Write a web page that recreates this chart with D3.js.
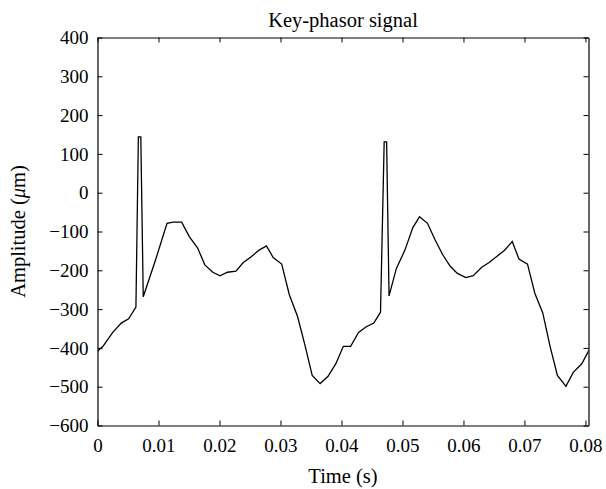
<!DOCTYPE html>
<html><head><meta charset="utf-8">
<script src="https://cdn.jsdelivr.net/npm/d3@7"></script>
<style>
body{margin:0;background:#fff;}
text{font-family:"Liberation Serif","DejaVu Serif",serif;fill:#000;}
</style></head>
<body><svg id="c" width="606" height="489"></svg>
<script>
const title = "Key-phasor signal";
const xLabel = "Time (s)";
const xTicks = [0,0.01,0.02,0.03,0.04,0.05,0.06,0.07,0.08];
const xTickLabels = ["0","0.01","0.02","0.03","0.04","0.05","0.06","0.07","0.08"];
const yTicks = [-600,-500,-400,-300,-200,-100,0,100,200,300,400];
const time = [0.0000,0.0009,0.0025,0.0039,0.0051,0.0063,0.0067,0.0071,0.0075,0.0095,0.0114,0.0124,0.0138,0.01505,0.0164,0.0176,0.0189,0.0201,0.0213,0.0227,0.0239,0.0252,0.0265,0.0277,0.0288,0.0302,0.03145,0.0328,0.0340,0.0352,0.0365,0.0378,0.0391,0.0403,0.0415,0.0428,0.0440,0.0453,0.0464,0.0470,0.0474,0.0478,0.0490,0.0504,0.0517,0.0528,0.0541,0.0553,0.0566,0.0578,0.0590,0.0604,0.0616,0.0630,0.0642,0.0654,0.0667,0.0680,0.0691,0.0705,0.0717,0.0730,0.0742,0.0754,0.0768,0.0780,0.0794,0.0806];
const amplitude = [-409,-396,-360,-336,-325,-295,144,144,-268,-174,-79,-76,-76,-113,-142,-186,-205,-214,-205,-202,-180,-165,-148,-137,-167,-184,-263,-319,-392,-471,-492,-473,-440,-396,-396,-360,-346,-336,-308,131,131,-266,-195,-148,-90,-62,-79,-120,-160,-189,-208,-219,-214,-192,-180,-165,-149,-126,-171,-184,-259,-310,-396,-471,-499,-463,-441,-405];

const svg = d3.select("#c");
const L=97.5, R=588.5, T=37.5, B=425.5;
const x = d3.scaleLinear().domain([0,0.0805]).range([L,R]);
const y = d3.scaleLinear().domain([-600,400]).range([B,T]);
const fsTick = 19, fsLab = 20.5;

svg.append("defs").append("clipPath").attr("id","clip")
  .append("rect").attr("x",L).attr("y",T).attr("width",R-L).attr("height",B-T);

const data = time.map((t,i)=>({t, v: amplitude[i]}));
svg.append("path").datum(data)
  .attr("clip-path","url(#clip)")
  .attr("fill","none").attr("stroke","#000").attr("stroke-width",1.3)
  .attr("d", d3.line().x(d=>x(d.t)).y(d=>y(d.v)));

const tl=5;
const gB = svg.append("g").attr("transform",`translate(0,${B})`)
  .call(d3.axisBottom(x).tickValues(xTicks).tickSizeInner(-tl).tickSizeOuter(0)
    .tickFormat((d,i)=>xTickLabels[i]));
const gT = svg.append("g").attr("transform",`translate(0,${T})`)
  .call(d3.axisTop(x).tickValues(xTicks).tickSizeInner(-tl).tickSizeOuter(0).tickFormat(""));
const gL = svg.append("g").attr("transform",`translate(${L},0)`)
  .call(d3.axisLeft(y).tickValues(yTicks).tickSizeInner(-tl).tickSizeOuter(0)
    .tickPadding(9).tickFormat(d=> d<0 ? "\u2212"+Math.abs(d) : String(d)));
const gR = svg.append("g").attr("transform",`translate(${R},0)`)
  .call(d3.axisRight(y).tickValues(yTicks).tickSizeInner(-tl).tickSizeOuter(0).tickFormat(""));
[gB,gT,gL,gR].forEach(g=>{
  g.select(".domain").attr("stroke","#000").attr("stroke-width",1.2);
  g.selectAll(".tick line").attr("stroke","#000").attr("stroke-width",1);
  g.selectAll("text").attr("font-family",null).attr("font-size",fsTick).attr("fill","#000");
});
gB.selectAll(".tick text").attr("y",26.5).attr("dy",null);
gL.selectAll(".tick text").attr("dy","0.33em");

svg.append("text").attr("x",(L+R)/2).attr("y",27).attr("text-anchor","middle")
  .attr("font-size",fsLab).text(title);
svg.append("text").attr("x",(L+R)/2).attr("y",483).attr("text-anchor","middle")
  .attr("font-size",fsLab).text(xLabel);
const yl = svg.append("text").attr("transform",`translate(25,${(T+B)/2}) rotate(-90)`)
  .attr("text-anchor","middle").attr("font-size",fsLab);
yl.append("tspan").text("Amplitude (");
yl.append("tspan").attr("font-style","italic").text("\u03bc");
yl.append("tspan").text("m)");
</script></body></html>
